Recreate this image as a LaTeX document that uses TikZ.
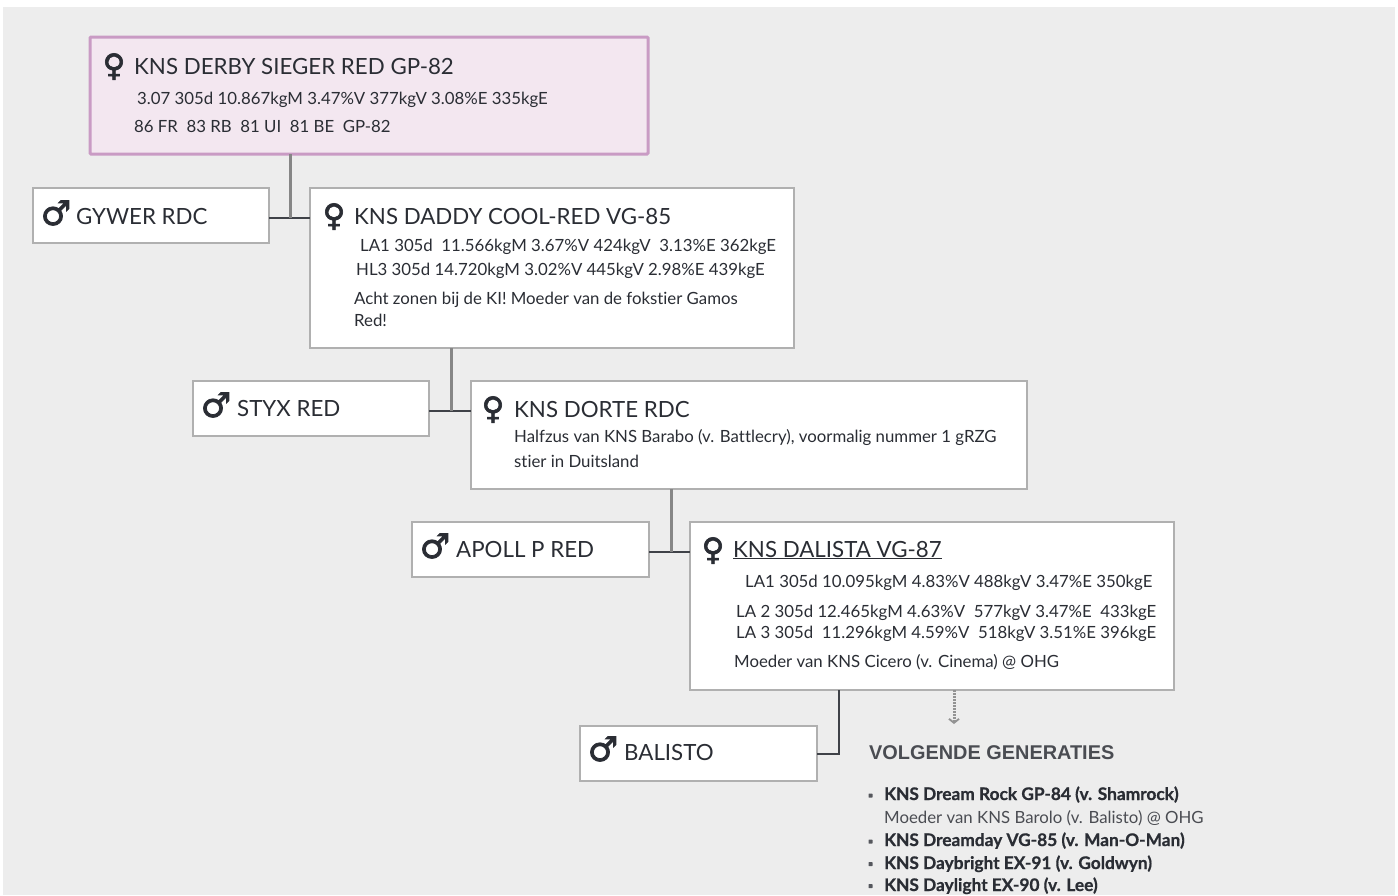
\documentclass[tikz,border=0pt]{standalone}
\usepackage{fontspec}
\setmainfont{Lato}[Ligatures=NoCommon]
\newfontfamily\symf[FakeBold=2.2]{DejaVu Sans}
\newfontfamily\helv{Liberation Sans}
\usetikzlibrary{arrows.meta}
\definecolor{bggrey}{HTML}{EDEDED}
\definecolor{ink}{HTML}{2A2D34}
\definecolor{edgegrey}{HTML}{B0B0B0}
\definecolor{pinkedge}{HTML}{C99BC4}
\definecolor{pinkfill}{HTML}{F3E7F0}
\tikzset{
  x=1pt,y=-1pt,
  box/.style={draw=edgegrey,line width=2.2pt,fill=white,rectangle,inner sep=0pt,outer sep=0pt,anchor=north west},
  topbox/.style={draw=pinkedge,line width=3pt,fill=pinkfill,rectangle,rounded corners=1pt,inner sep=0pt,outer sep=0pt,anchor=north west},
  title/.style={anchor=base west,inner sep=0pt,text=ink,font=\fontsize{22.3}{26}\selectfont},
  small/.style={anchor=base west,inner sep=0pt,text=ink,font=\fontsize{16.8}{20}\selectfont},
  listb/.style={anchor=base west,inner sep=0pt,text=ink,font=\fontsize{17.3}{20}\selectfont\bfseries\addfontfeature{FakeBold=0.8}},
  female/.style={anchor=base,inner sep=0pt,text=ink,font=\symf\fontsize{31}{32}\selectfont},
  male/.style={anchor=base,inner sep=0pt,text=ink,font=\symf\fontsize{34}{34}\selectfont},
  stem/.style={draw=gray!95,line width=3pt},
  link/.style={draw=ink!90,line width=2pt},
  bullet/.style={rectangle,rounded corners=0.5pt,fill=ink!80,inner sep=0pt,minimum size=4pt},
}
\begin{document}
\begin{tikzpicture}
\useasboundingbox (0,0) rectangle (1398,895);
\fill[white] (0,0) rectangle (1398,895);
\fill[bggrey] (3,7) rectangle (1395,895);

% boxes
\node[topbox,minimum width=558pt,minimum height=117pt] (top) at (90,37) {};
\node[box,minimum width=236pt,minimum height=55pt] (gywer) at (33,188) {};
\node[box,minimum width=484pt,minimum height=160pt] (daddy) at (310,188) {};
\node[box,minimum width=236pt,minimum height=55pt] (styx) at (193,381) {};
\node[box,minimum width=556pt,minimum height=108pt] (dorte) at (471,381) {};
\node[box,minimum width=237pt,minimum height=55pt] (apoll) at (412,522) {};
\node[box,minimum width=484pt,minimum height=168pt] (dalista) at (690,522) {};
\node[box,minimum width=237pt,minimum height=55pt] (balisto) at (580,726) {};

% connector joints
\coordinate (j1) at (290,217.5);
\coordinate (j2) at (451.5,410.5);
\coordinate (j3) at (671,551.5);
\coordinate (j4) at (839,753.5);
\coordinate (down) at (954,724);

\draw[link] (gywer.east |- j1) -- (daddy.west |- j1);
\draw[stem] (top.south -| j1) -- (j1);
\draw[link] (styx.east |- j2) -- (dorte.west |- j2);
\draw[stem] (daddy.south -| j2) -- (j2);
\draw[link] (apoll.east |- j3) -- (dalista.west |- j3);
\draw[stem] (dorte.south -| j3) -- (j3);
\draw[link] (balisto.east |- j4) -- (j4) -- (dalista.south -| j4);
\draw[draw=gray!85,line width=3pt,dash pattern=on 2pt off 1pt,-{Straight Barb[length=4pt,width=10pt,line width=1.8pt]}] (dalista.south -| down) -- (down);

% top
\node[female] (s1) at (114,76) {♀};
\node[title] (t1) at (134,74) {KNS DERBY SIEGER RED GP-82};
\node[small] (t1a) at (137,104) {3.07 305d 10.867kgM 3.47\%V 377kgV 3.08\%E 335kgE};
\node[small] (t1b) at (134,132) {86 FR\ \ 83 RB\ \ 81 UI\ \ 81 BE\ \ GP-82};

% gywer
\node[male] (s2) at (56,225) {♂};
\node[title] (t2) at (76,224) {GYWER RDC};

% daddy
\node[female] (s3) at (334,226) {♀};
\node[title] (t3) at (354,224) {KNS DADDY COOL-RED VG-85};
\node[small] (t3a) at (360,251) {LA1 305d\ \ 11.566kgM 3.67\%V 424kgV\ \ 3.13\%E 362kgE};
\node[small] (t3b) at (356,275) {HL3 305d 14.720kgM 3.02\%V 445kgV 2.98\%E 439kgE};
\node[small] (t3c) at (354,304) {Acht zonen bij de KI! Moeder van de fokstier Gamos};
\node[small] (t3d) at (354,326) {Red!};

% styx
\node[male] (s4) at (216,417) {♂};
\node[title] (t4) at (237,416) {STYX RED};

% dorte
\node[female] (s5) at (493,419) {♀};
\node[title] (t5) at (514,417) {KNS DORTE RDC};
\node[small] (t5a) at (514,442) {Halfzus van KNS Barabo (v. Battlecry), voormalig nummer 1 gRZG};
\node[small] (t5b) at (514,467) {stier in Duitsland};

% apoll
\node[male] (s6) at (435,558) {♂};
\node[title] (t6) at (456,557) {APOLL P RED};

% dalista
\node[female] (s7) at (713,560) {♀};
\node[title] (t7) at (733,557) {\underline{KNS DALISTA VG-87}};
\node[small] (t7a) at (745,587) {LA1 305d 10.095kgM 4.83\%V 488kgV 3.47\%E 350kgE};
\node[small] (t7b) at (736,617) {LA 2 305d 12.465kgM 4.63\%V\ \ 577kgV 3.47\%E\ \ 433kgE};
\node[small] (t7c) at (736,638) {LA 3 305d\ \ 11.296kgM 4.59\%V\ \ 518kgV 3.51\%E 396kgE};
\node[small] (t7d) at (734,667) {Moeder van KNS Cicero (v. Cinema) @ OHG};

% balisto
\node[male] (s8) at (603,761) {♂};
\node[title] (t8) at (624,760) {BALISTO};

% next generations
\node[anchor=base west,inner sep=0pt,text=ink!85,font=\helv\bfseries\fontsize{19.9}{24}\selectfont] (vg) at (869,759) {VOLGENDE GENERATIES};
\node[listb] (l1) at (884,800) {KNS Dream Rock GP-84 (v. Shamrock)};
\node[small,text=ink!85] (l1b) at (884,823) {Moeder van KNS Barolo (v. Balisto) @ OHG};
\node[listb] (l2) at (884,846) {KNS Dreamday VG-85 (v. Man-O-Man)};
\node[listb] (l3) at (884,869) {KNS Daybright EX-91 (v. Goldwyn)};
\node[listb] (l4) at (884,891) {KNS Daylight EX-90 (v. Lee)};
\node[bullet] (b1) at (870.5,795.5) {};
\node[bullet] (b2) at (870.5,841.5) {};
\node[bullet] (b3) at (870.5,864) {};
\node[bullet] (b4) at (870.5,886) {};
\end{tikzpicture}
\end{document}
